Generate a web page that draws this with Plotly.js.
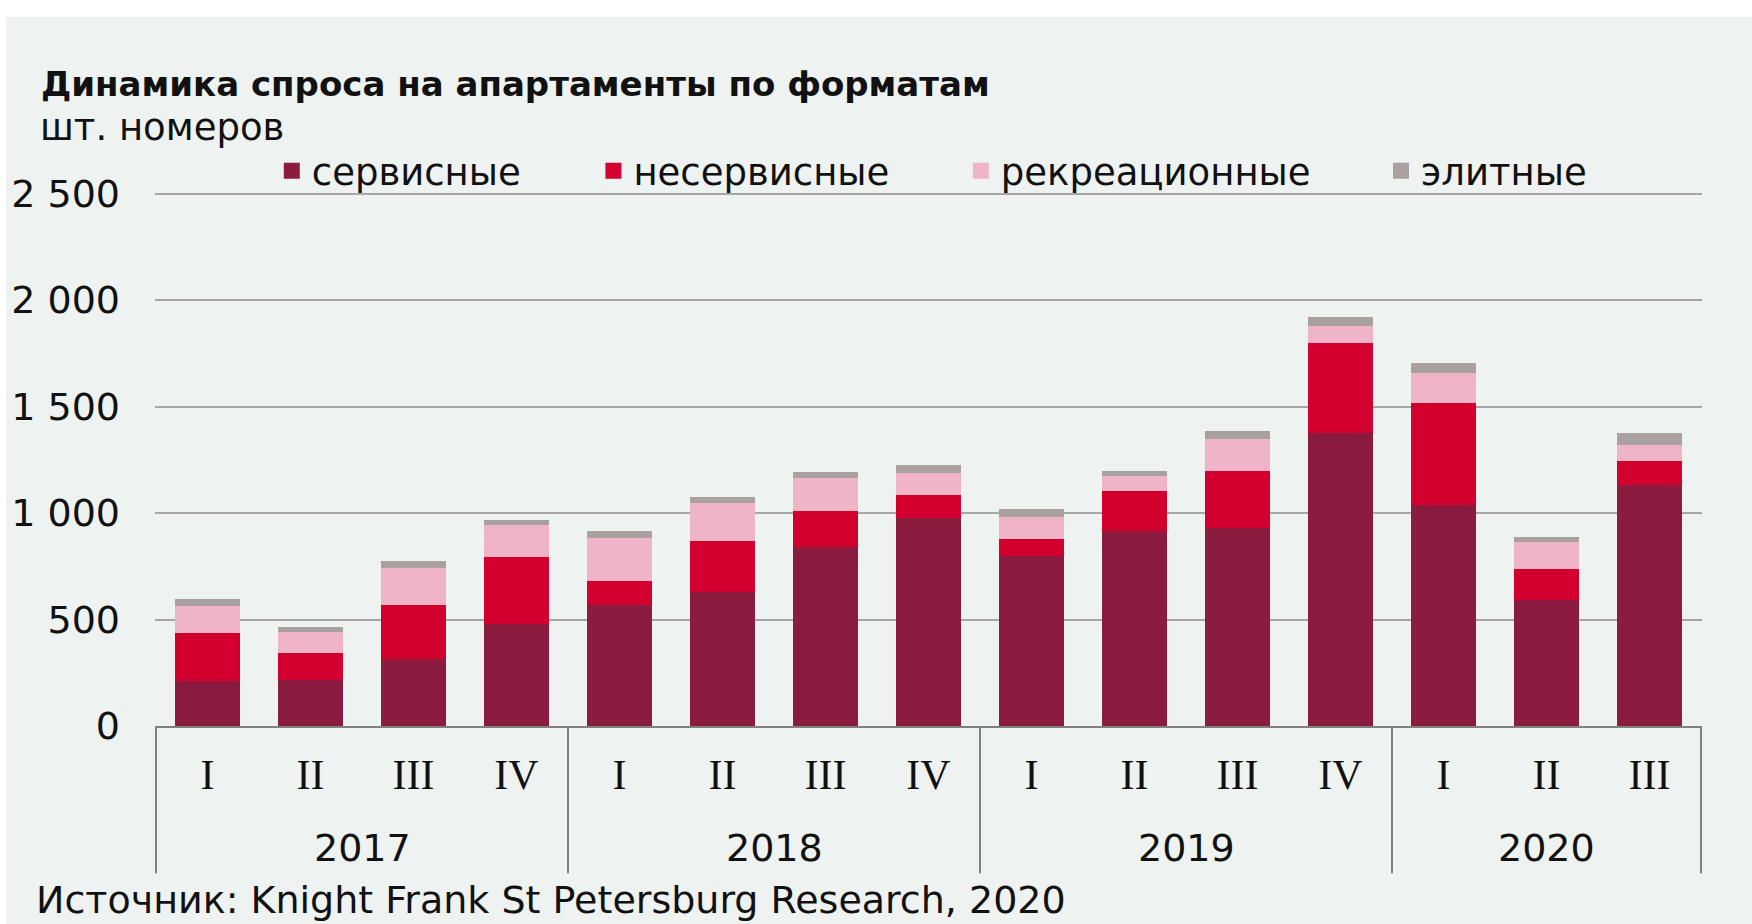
<!DOCTYPE html>
<html>
<head>
<meta charset="utf-8">
<script src="https://cdn.plot.ly/plotly-3.0.1.min.js"></script>
<style>
  html, body { margin: 0; padding: 0; background: #ffffff; width: 1752px; height: 924px; overflow: hidden; }
  #chart { position: absolute; left: 6px; top: 17px; width: 1746px; height: 907px; }
</style>
</head>
<body>
<div id="chart"></div>
<script>
// ---- data ----
const categories = ["2017 I","2017 II","2017 III","2017 IV","2018 I","2018 II","2018 III","2018 IV","2019 I","2019 II","2019 III","2019 IV","2020 I","2020 II","2020 III"];
const quarterLabels = ["I","II","III","IV","I","II","III","IV","I","II","III","IV","I","II","III"];
const years = ["2017","2018","2019","2020"];
const yearQuarterCounts = [4, 4, 4, 3];

const serviced    = [220, 227, 323, 490, 578, 639, 849, 988, 808, 923, 939, 1387, 1046, 602, 1139];
const nonServiced = [226, 127, 255, 313, 113, 240, 172, 108,  79, 190, 266,  420,  480, 146,  115];
const recreation  = [126,  97, 171, 150, 201, 179, 152, 103, 104,  68, 154,   80,  140, 125,   75];
const elite       = [ 16,   5,  17,   3,  14,  10,   9,  18,  18,   7,  17,   23,   29,   4,   36];

const seriesNames = ["сервисные", "несервисные", "рекреационные", "элитные"];
const yTickVals = [0, 500, 1000, 1500, 2000, 2500];
const yTickText = ["0", "500", "1 000", "1 500", "2 000", "2 500"];

const titleText = "Динамика спроса на апартаменты по форматам";
const unitText = "шт. номеров";
const sourceText = "Источник: Knight Frank St Petersburg Research, 2020";

// ---- styles ----
const colors = ["#8b1c40", "#d3002f", "#f0b4c9", "#a8a19f"];
const SANS = "DejaVu Sans, Verdana, sans-serif";
const SERIF = "Liberation Serif, Times New Roman, serif";
const legendX = [0.0755, 0.2834, 0.5209, 0.7925];

const seriesData = [serviced, nonServiced, recreation, elite];
const traces = seriesData.map((vals, i) => ({
  type: "bar",
  name: seriesNames[i],
  x: categories,
  y: vals,
  marker: { color: colors[i], line: { width: 4, color: colors[i] } },
  legend: i === 0 ? "legend" : "legend" + (i + 1),
  cliponaxis: true,
  hoverinfo: "skip"
}));

// group dividers and year labels
const shapes = [];
const annotations = [];
let start = 0;
shapes.push({ type: "line", xref: "x", yref: "paper", x0: -0.5, x1: -0.5, y0: 0, y1: -0.275, line: { color: "#808080", width: 2 } });
years.forEach((yr, k) => {
  const n = yearQuarterCounts[k];
  const end = start + n - 1;
  shapes.push({ type: "line", xref: "x", yref: "paper", x0: end + 0.5, x1: end + 0.5, y0: 0, y1: -0.275, line: { color: "#808080", width: 2 } });
  annotations.push({ xref: "x", yref: "paper", x: (start + end) / 2, y: -0.228, yanchor: "middle", xanchor: "center",
    text: yr, showarrow: false, font: { family: SANS, size: 38, color: "#111111" } });
  start += n;
});
annotations.push({ xref: "paper", yref: "paper", x: -0.0759, y: 1.118, xanchor: "left", yanchor: "middle",
  text: unitText, showarrow: false, font: { family: SANS, size: 37, color: "#111111" } });
annotations.push({ xref: "paper", yref: "paper", x: -0.0784, y: -0.326, xanchor: "left", yanchor: "middle",
  text: sourceText, showarrow: false, font: { family: SANS, size: 38, color: "#111111" } });

const legendBase = (x) => ({
  x: x, y: 1.037, xref: "paper", yref: "paper", xanchor: "left", yanchor: "middle",
  orientation: "h", bgcolor: "rgba(0,0,0,0)", borderwidth: 0,
  font: { family: SANS, size: 37, color: "#111111" }, itemclick: false, itemdoubleclick: false
});

const layout = {
  width: 1746, height: 907,
  margin: { l: 149, r: 50, t: 174, b: 198 },
  paper_bgcolor: "#eef2f0",
  plot_bgcolor: "#eef2f0",
  barmode: "stack",
  bargap: 0.40,
  title: { text: "<b>" + titleText + "</b>", xref: "container", yref: "container", x: 0.02, xanchor: "left", y: 0.926, yanchor: "middle",
    font: { family: SANS, size: 34, color: "#111111" } },
  xaxis: {
    type: "category",
    tickmode: "array", tickvals: categories, ticktext: quarterLabels,
    tickfont: { family: SERIF, size: 42, color: "#111111" },
    showgrid: false, showline: true, linecolor: "#808080", linewidth: 2,
    ticks: "", ticklabelstandoff: 11, fixedrange: true
  },
  yaxis: {
    range: [0, 2512],
    tickmode: "array", tickvals: yTickVals, ticktext: yTickText,
    tickfont: { family: SANS, size: 38, color: "#111111" },
    showgrid: true, gridcolor: "#a6a6a6", gridwidth: 2,
    zeroline: false, showline: false, ticks: "", ticklabelstandoff: 34, fixedrange: true
  },
  showlegend: true,
  legend: legendBase(legendX[0]),
  legend2: legendBase(legendX[1]),
  legend3: legendBase(legendX[2]),
  legend4: legendBase(legendX[3]),
  shapes: shapes,
  annotations: annotations
};

Plotly.newPlot("chart", traces, layout, { displayModeBar: false, staticPlot: true });
</script>
</body>
</html>
